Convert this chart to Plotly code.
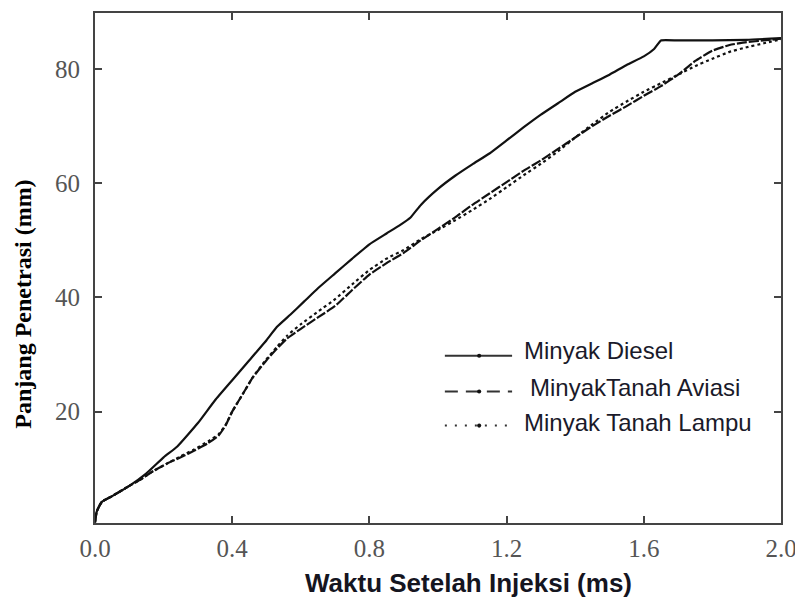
import plotly.graph_objects as go

# ---- data ----
diesel_x = [0, 0.005, 0.02, 0.05, 0.1, 0.15, 0.2, 0.24, 0.3, 0.35, 0.4, 0.45, 0.5, 0.53, 0.57,
            0.61, 0.65, 0.7, 0.75, 0.8, 0.85, 0.89, 0.92, 0.95, 1.0, 1.05, 1.1, 1.15, 1.2, 1.25,
            1.3, 1.35, 1.4, 1.45, 1.5, 1.55, 1.6, 1.63, 1.65, 1.7, 1.8, 1.9, 2.0]
diesel_y = [0.6, 2.5, 4.2, 5.2, 7, 9.2, 12, 13.9, 18, 22, 25.5, 29, 32.5, 34.8, 37,
            39.3, 41.6, 44.2, 46.8, 49.3, 51.2, 52.7, 54, 56.2, 59, 61.3, 63.3, 65.2, 67.5, 69.8,
            72, 74, 76, 77.5, 79, 80.7, 82.2, 83.5, 85, 85, 85, 85.1, 85.4]

kero_x = [0, 0.005, 0.02, 0.05, 0.1, 0.13, 0.17, 0.21, 0.25, 0.29, 0.33, 0.36, 0.38, 0.4, 0.43,
          0.46, 0.5, 0.53, 0.56, 0.6, 0.65, 0.7, 0.75, 0.8, 0.85, 0.9, 0.95, 1.0, 1.05, 1.1,
          1.15, 1.2, 1.25, 1.3, 1.35, 1.4, 1.45, 1.5, 1.55, 1.6, 1.65, 1.7, 1.75, 1.8, 1.85,
          1.9, 1.95, 2.0]
aviasi_y = [0.6, 2.5, 4.2, 5.2, 7, 8, 9.6, 10.9, 12, 13.2, 14.5, 15.8, 17.5, 20, 23,
            26, 29, 31, 32.8, 34.5, 36.5, 38.5, 41.3, 44, 46, 47.8, 50, 52, 54, 56.2,
            58.2, 60.2, 62.2, 64, 66, 68, 70, 71.8, 73.5, 75.3, 77, 79, 81.4, 83.2, 84.2,
            84.7, 85.0, 85.3]
lampu_y = [0.6, 2.5, 4.2, 5.2, 7, 8, 9.6, 10.9, 12.2, 13.4, 14.8, 16, 17.6, 20, 23,
           26, 29.2, 31.3, 33.3, 35.3, 37.5, 39.7, 42.3, 44.8, 46.8, 48.3, 50.2, 51.8, 53.5, 55.3,
           57.2, 59.3, 61.4, 63.4, 65.6, 68, 70.3, 72.5, 74.3, 76, 77.5, 79, 80.5, 81.8, 83,
           83.8, 84.5, 85.2]

series_names = ["Minyak Diesel", "MinyakTanah Aviasi", "Minyak Tanah Lampu"]
x_tickvals = [0.0, 0.4, 0.8, 1.2, 1.6, 2.0]
x_ticktext = ["0.0", "0.4", "0.8", "1.2", "1.6", "2.0"]
y_tickvals = [20, 40, 60, 80]
x_title = "Waktu Setelah Injeksi (ms)"
y_title = "Panjang Penetrasi (mm)"

LINE = "#111111"
AX = "#444444"

fig = go.Figure()
fig.add_trace(go.Scatter(x=diesel_x, y=diesel_y, mode="lines", name=series_names[0],
                         line=dict(color=LINE, width=2.2, shape="spline", smoothing=0.4)))
fig.add_trace(go.Scatter(x=kero_x, y=lampu_y, mode="lines", name=series_names[2],
                         line=dict(color=LINE, width=2.2, dash="dot", shape="spline", smoothing=0.4)))
fig.add_trace(go.Scatter(x=kero_x, y=aviasi_y, mode="lines", name=series_names[1],
                         line=dict(color=LINE, width=2.2, dash="10px,2px", shape="spline", smoothing=0.4)))

axis_common = dict(showline=True, linecolor=AX, linewidth=2, mirror="ticks",
                   ticks="inside", ticklen=7, tickwidth=1.5, tickcolor=AX,
                   showgrid=False, zeroline=False,
                   tickfont=dict(family="Liberation Serif, Times New Roman, serif", size=25, color="#555555"))

fig.update_layout(
    width=795, height=590,
    margin=dict(l=87, r=22, t=3, b=75),
    paper_bgcolor="white", plot_bgcolor="white",
    showlegend=False,
    xaxis=dict(range=[0, 2.0], tickvals=x_tickvals, ticktext=x_ticktext,
               ticklabelstandoff=2, **axis_common),
    yaxis=dict(range=[0.5, 89.8], tickvals=y_tickvals, ticklabelstandoff=8, **axis_common),
)

# axis titles
fig.add_annotation(text=f"<b>{x_title}</b>", xref="paper", yref="paper", x=0.545, y=-0.117,
                   showarrow=False, xanchor="center", yanchor="middle",
                   font=dict(family="Liberation Sans, Arial, sans-serif", size=26, color="#15151f"))
fig.add_annotation(text=f"<b>{y_title}</b>", xref="paper", yref="paper", x=-0.105, y=0.43,
                   showarrow=False, textangle=-90, xanchor="center", yanchor="middle",
                   font=dict(family="Liberation Serif, Times New Roman, serif", size=24, color="#000000"))

# manual legend
leg_x0, leg_x1, leg_xm = 0.510, 0.608, 0.560
rows_line_y = [0.328, 0.258, 0.191]
rows_text_y = [0.338, 0.266, 0.197]
rows_text_x = [0.622, 0.631, 0.622]
dashes = ["solid", "13px,8px", "2px,8px"]
for i in range(3):
    fig.add_shape(type="line", xref="paper", yref="paper", x0=leg_x0, x1=leg_x1,
                  y0=rows_line_y[i], y1=rows_line_y[i],
                  line=dict(color="#333333", width=2, dash=dashes[i]))
    fig.add_shape(type="circle", xref="paper", yref="paper",
                  x0=leg_xm - 0.003, x1=leg_xm + 0.003,
                  y0=rows_line_y[i] - 0.004, y1=rows_line_y[i] + 0.004,
                  fillcolor="#111111", line=dict(color="#111111", width=0))
    fig.add_annotation(text=series_names[i], xref="paper", yref="paper",
                       x=rows_text_x[i], y=rows_text_y[i], showarrow=False,
                       xanchor="left", yanchor="middle",
                       font=dict(family="Liberation Sans, Arial, sans-serif", size=24, color="#1a1a2a"))

fig.write_html("out.html")
